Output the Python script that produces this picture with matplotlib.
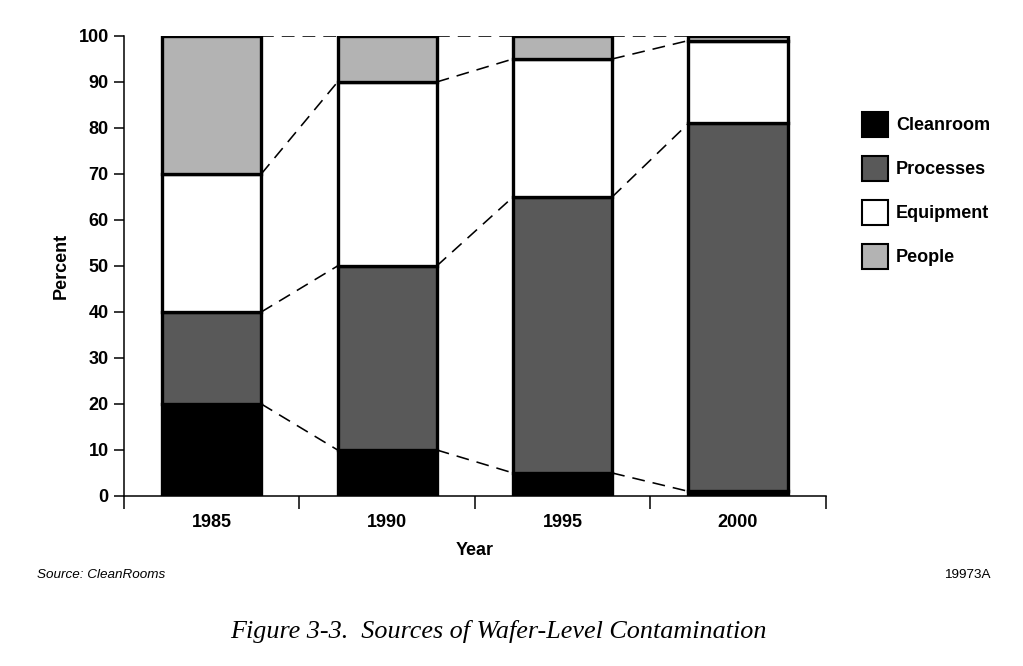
import numpy as np
import matplotlib.pyplot as plt
from matplotlib.patches import Patch

years = ['1985', '1990', '1995', '2000']
series = ['Cleanroom', 'Processes', 'Equipment', 'People']
cleanroom = [20, 10, 5, 1]
processes = [20, 40, 60, 80]
equipment = [30, 40, 30, 18]
people = [30, 10, 5, 1]
colors = ['#000000', '#595959', '#ffffff', '#b3b3b3']

plt.rcParams['font.family'] = ['Liberation Sans', 'DejaVu Sans']

fig = plt.figure(figsize=(10.23, 6.66), dpi=100)
ax = fig.add_axes([0.1212, 0.2553, 0.686, 0.6907])

x = np.arange(len(years))
w = 0.565
data = [cleanroom, processes, equipment, people]
bottom = np.zeros(len(years))
tops = []
for vals, c in zip(data, colors):
    vals = np.array(vals, dtype=float)
    ax.bar(x, vals, w, bottom=bottom, color=c, edgecolor='black',
           linewidth=2.4, zorder=3)
    bottom = bottom + vals
    tops.append(bottom.copy())

# dashed connectors between segment tops of neighbouring bars
for t in tops:
    for i in range(len(years) - 1):
        ax.plot([x[i] + w / 2, x[i + 1] - w / 2], [t[i], t[i + 1]],
                color='black', linestyle=(0, (8, 5)), linewidth=1.15, zorder=2)

ax.set_xlim(-0.5, 3.5)
ax.set_ylim(0, 100)
ax.set_yticks(range(0, 101, 10))
ax.set_xticks(np.arange(-0.5, 4, 1))
ax.set_xticklabels([])
ax.set_xticks(x, minor=True)
ax.set_xticklabels(years, minor=True, fontsize=13, fontweight='bold')
ax.tick_params(axis='x', which='minor', length=0, pad=13)
ax.tick_params(axis='x', which='major', length=9, width=1.1, direction='out')
ax.tick_params(axis='y', length=7, width=1.1, direction='out', pad=4)
for lab in ax.get_yticklabels():
    lab.set_fontsize(13)
    lab.set_fontweight('bold')

for s in ['top', 'right']:
    ax.spines[s].set_visible(False)
for s in ['left', 'bottom']:
    ax.spines[s].set_linewidth(1.1)

ax.set_ylabel('Percent', fontsize=13, fontweight='bold', labelpad=6)
ax.set_xlabel('Year', fontsize=13, fontweight='bold', labelpad=8)

handles = [Patch(facecolor=c, edgecolor='black', linewidth=1.5, label=s)
           for s, c in zip(series, colors)]
fig.legend(handles=handles, loc='upper left', bbox_to_anchor=(0.8426, 0.832),
           frameon=False, borderpad=0, borderaxespad=0,
           handlelength=1.44, handleheight=1.75,
           labelspacing=1.05, handletextpad=0.45,
           prop={'size': 13, 'weight': 'bold'})

fig.text(0.036, 0.136, 'Source: CleanRooms', fontsize=9.7, style='italic',
         va='center')
fig.text(0.968, 0.136, '19973A', fontsize=9.7, ha='right', va='center')
fig.text(0.487, 0.052, 'Figure 3-3.  Sources of Wafer-Level Contamination',
         fontsize=18.8, style='italic', family=['Liberation Serif', 'DejaVu Serif'],
         ha='center', va='center')

fig.savefig('out.png', dpi=100)
